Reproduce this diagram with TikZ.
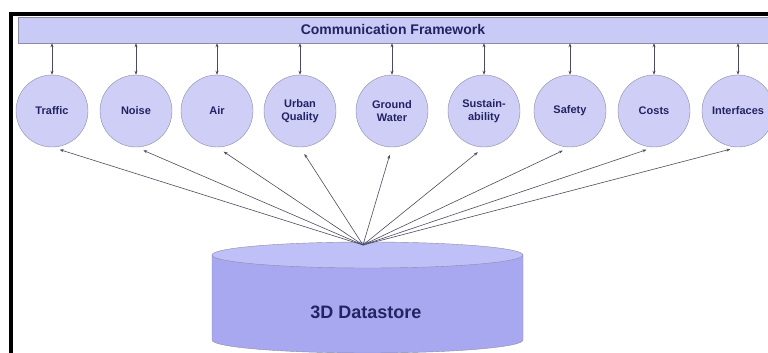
\documentclass[tikz,border=0pt]{standalone}
\usepackage{fontspec}
\setmainfont{Liberation Sans}
\usetikzlibrary{arrows.meta}
\definecolor{barfill}{RGB}{202,202,246}
\definecolor{topicfill}{RGB}{206,206,246}
\definecolor{ringgray}{RGB}{140,140,165}
\definecolor{labelblue}{RGB}{35,35,100}
\definecolor{linkgray}{RGB}{75,75,95}
\definecolor{datafill}{RGB}{168,168,240}
\definecolor{datatop}{RGB}{192,192,248}
\begin{document}
\begin{tikzpicture}[x=1pt,y=1pt,>={Stealth[length=4pt,width=3pt]},
		topic/.style={circle,draw=ringgray,fill=topicfill,minimum size=72pt,inner sep=0pt,align=center,text=labelblue,font=\bfseries\fontsize{11}{13}\selectfont},
		link/.style={draw=linkgray,line width=0.6pt}]
		\useasboundingbox (0,0) rectangle (768,353);
		\clip (0,0) rectangle (768,353);
		%frame
		\draw[line width=4pt] (11,0) -- (11,339) -- (772,339);
		
		%framework bar
		\node[draw=ringgray,fill=barfill,minimum width=750pt,minimum height=26pt,inner sep=0pt,text=labelblue,font=\bfseries\fontsize{14}{16}\selectfont] (bar) at (393,323){Communication Framework};
		
		%datastore cylinder
		\fill[datafill] (212,98) -- (212,13) arc[start angle=180,end angle=360,x radius=155.5,y radius=13] -- (523,98) -- cycle;
		\draw[ringgray] (212,98) -- (212,13) arc[start angle=180,end angle=360,x radius=155.5,y radius=13] -- (523,98);
		\filldraw[fill=datatop,draw=ringgray] (367.5,98) ellipse[x radius=155.5,y radius=13];
		\node[text=labelblue,font=\bfseries\fontsize{18}{20}\selectfont] (store) at (366,41){3D Datastore};
		\coordinate (hub) at (363,108);
		
		\foreach \x/\name/\txt in {52/traffic/Traffic, 136/noise/Noise, 217/air/Air, 300/urban/{Urban\\Quality}, 392/ground/{Ground\\Water}, 484/sustain/{Sustain-\\ability}, 570/safety/Safety, 654/costs/Costs, 738/interfaces/Interfaces}{
			\node[topic] (\name) at (\x,242){\txt};
			\draw[link,<->] (\name.north) -- (\name.north |- bar.south);
			\draw[link,->,shorten >=8pt] (hub) -- (\name.south);
		}
\end{tikzpicture}
\end{document}
